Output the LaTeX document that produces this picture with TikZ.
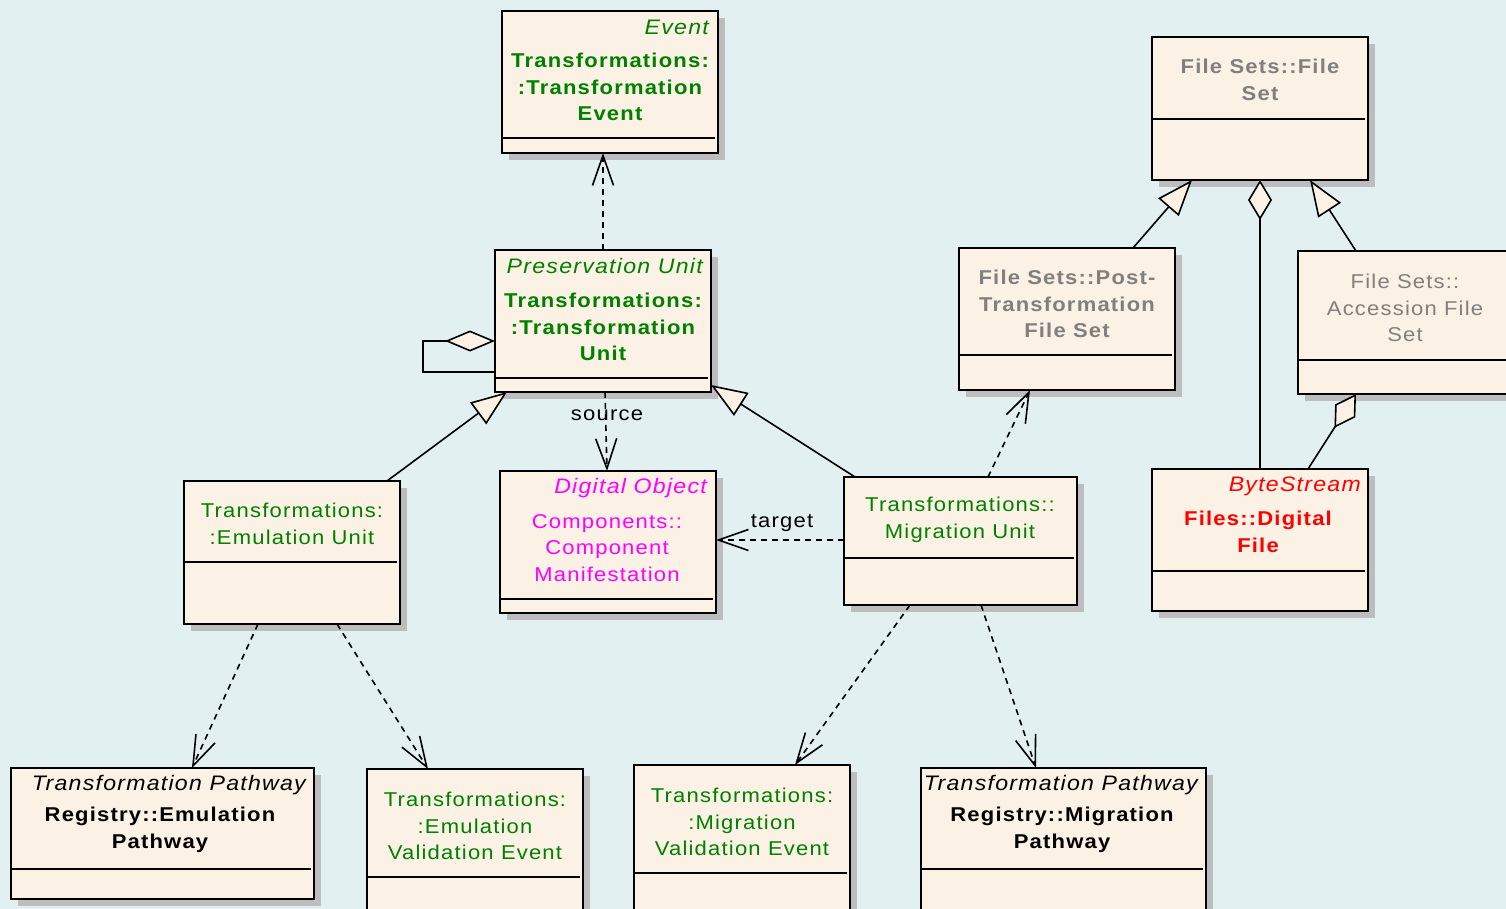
\documentclass[tikz,border=0pt]{standalone}
\usepackage{fontspec}
\setmainfont{Liberation Sans}[FakeStretch=1.1,LetterSpace=6]
\usetikzlibrary{arrows.meta,shadows}

\definecolor{bgcol}{HTML}{E2F0F2}
\definecolor{boxfill}{HTML}{FBF1E4}
\definecolor{shadowcol}{HTML}{BDBDBD}
\definecolor{umlgreen}{HTML}{008000}
\definecolor{umlgray}{HTML}{808080}
\definecolor{umlmag}{HTML}{FF00FF}
\definecolor{umlred}{HTML}{FF0000}

\tikzset{
  classbox/.style={draw=black, line width=1.8pt, fill=boxfill, inner sep=0pt,
    outer sep=0pt, anchor=north west,
    drop shadow={shadow xshift=7pt, shadow yshift=-7pt, fill=shadowcol, opacity=1}},
  stereo/.style={font=\fontsize{21}{26.5}\selectfont\itshape, anchor=east, inner sep=0pt},
  cname/.style={font=\fontsize{20}{26.5}\selectfont\bfseries, align=center, inner sep=0pt},
  cplain/.style={font=\fontsize{20}{26.5}\selectfont, align=center, inner sep=0pt},
  conn/.style={line width=1.6pt},
  dep/.style={conn, dash pattern=on 6pt off 5pt,
    -{Straight Barb[length=30pt,width=21pt,line width=1.6pt]}},
  gen/.style={conn, -{Triangle[length=36pt,width=27pt,fill=boxfill,line width=1.6pt]}},
  agg/.style={conn, {Diamond[length=40pt,width=24pt,fill=boxfill,line width=1.6pt]}-},
  selfagg/.style={conn, {Diamond[length=50pt,width=21pt,fill=boxfill,line width=1.6pt]}-},
}

% class box: name, x, y, width, height, divider offset from top
\newcommand\classbox[6]{%
  \node[classbox, minimum width=#4pt, minimum height=#5pt] (#1) at (#2,#3) {};
  \draw[line width=1.8pt] ([yshift=-#6pt]#1.north west) -- ([yshift=-#6pt,xshift=-3pt]#1.north east);
}

\begin{document}
\begin{tikzpicture}[x=1pt,y=-1pt]
\useasboundingbox (0,0) rectangle (1506,909);
\fill[bgcol] (0,0) rectangle (1506,909);
\clip (0,0) rectangle (1506,909);

% ---- classes ----
\classbox{evt}{502}{11}{216}{142}{127}
\classbox{fs}{1152}{37}{216}{143}{82}
\classbox{pu}{495}{250}{216}{142}{128}
\classbox{pt}{959}{248}{216}{142}{107}
\classbox{acc}{1298}{251}{216}{143}{109}
\classbox{emu}{184}{481}{216}{143}{81}
\classbox{dobj}{500}{471}{216}{142}{128}
\classbox{mig}{844}{477}{233}{128}{81}
\classbox{bs}{1152}{469}{216}{142}{102}
\classbox{ep}{11}{768}{303}{131}{101}
\classbox{eve}{367}{769}{216}{160}{108}
\classbox{mve}{634}{765}{216}{160}{108}
\classbox{mp}{921}{768}{285}{160}{101}

% ---- class texts ----
\node[stereo, text=umlgreen] (evt-st) at (709,27) {Event};
\node[cname, text=umlgreen] (evt-nm) at (610,87) {Transformations:\\:Transformation\\Event};

\node[cname, text=umlgray] (fs-nm) at (1260,80) {File Sets::File\\Set};

\node[stereo, text=umlgreen] (pu-st) at (703,266) {Preservation Unit};
\node[cname, text=umlgreen] (pu-nm) at (603,327) {Transformations:\\:Transformation\\Unit};

\node[cname, text=umlgray] (pt-nm) at (1067,304) {File Sets::Post-\\Transformation\\File Set};

\node[cplain, text=umlgray] (acc-nm) at (1405,308) {File Sets::\\Accession File\\Set};

\node[cplain, text=umlgreen] (emu-nm) at (292,524) {Transformations:\\:Emulation Unit};

\node[stereo, text=umlmag] (dobj-st) at (707,488) {Digital Object};
\node[cplain, text=umlmag] (dobj-nm) at (607,548) {Components::\\Component\\Manifestation};

\node[cplain, text=umlgreen] (mig-nm) at (960,520) {Transformations::\\Migration Unit};

\node[stereo, text=umlred] (bs-st) at (1361,486) {ByteStream};
\node[cname, text=umlred] (bs-nm) at (1258,532) {Files::Digital\\File};

\node[stereo, text=black] (ep-st) at (306,785) {Transformation Pathway};
\node[cname, text=black] (ep-nm) at (160,830) {Registry::Emulation\\Pathway};

\node[cplain, text=umlgreen] (eve-nm) at (475,826) {Transformations:\\:Emulation\\Validation Event};

\node[cplain, text=umlgreen] (mve-nm) at (742,822) {Transformations:\\:Migration\\Validation Event};

\node[stereo, text=black] (mp-st) at (1198,785) {Transformation Pathway};
\node[cname, text=black] (mp-nm) at (1062,830) {Registry::Migration\\Pathway};

% ---- connectors ----
\draw[dep] ([xshift=108pt]pu.north west) -- ([xshift=101pt]evt.south west);

\draw[selfagg] ([yshift=-91pt]pu.north west) -- ++(-72,0) -- ++(0,31)
  -- ([yshift=-122pt]pu.north west);

\draw[gen] ([xshift=203pt]emu.north west) -- ([xshift=12pt]pu.south west);
\draw[gen] ([xshift=11pt]mig.north west) -- ([yshift=7pt]pu.south east);

\draw[dep] ([xshift=110pt]pu.south west) -- ([xshift=107pt]dobj.north west);
\node[cplain] (lbl-src) at (607,415) {source};

\draw[dep] ([yshift=-63pt]mig.north west) -- ([yshift=-69pt]dobj.north east);
\node[cplain] (lbl-tgt) at (782,523) {target};

\draw[dep] ([xshift=144pt]mig.north west) -- ([xshift=71pt]pt.south west);

\draw[gen] ([xshift=174pt]pt.north west) -- ([xshift=40pt]fs.south west);
\draw[gen] ([xshift=58pt]acc.north west) -- ([xshift=158pt]fs.south west);

\draw[agg] ([xshift=108pt]fs.south west) -- ([xshift=108pt]bs.north west);
\draw[agg] ([xshift=58pt]acc.south west) -- ([xshift=156pt]bs.north west);

\draw[dep] ([xshift=74pt]emu.south west) -- ([xshift=181pt]ep.north west);
\draw[dep] ([xshift=153pt]emu.south west) -- ([xshift=61pt]eve.north west);
\draw[dep] ([xshift=66pt]mig.south west) -- ([xshift=161pt]mve.north west);
\draw[dep] ([xshift=137pt]mig.south west) -- ([xshift=115pt]mp.north west);
\end{tikzpicture}
\end{document}
